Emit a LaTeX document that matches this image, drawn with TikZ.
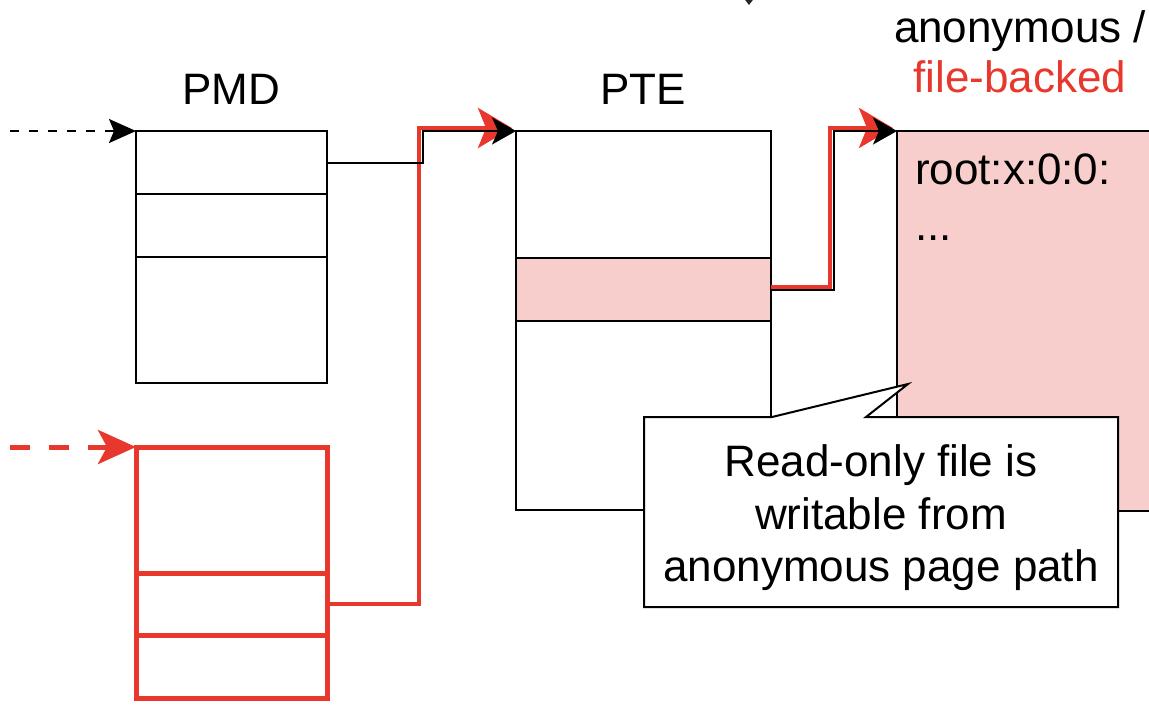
\documentclass[tikz,border=0pt]{standalone}
\usepackage{fontspec}
\setmainfont{Liberation Sans}
\usetikzlibrary{arrows.meta,calc}
\definecolor{alertred}{HTML}{E8372C}
\definecolor{pagepink}{HTML}{F8CECC}
\begin{document}
\begin{tikzpicture}[x=0.5pt,y=-0.5pt,
  every node/.style={inner sep=0pt,outer sep=0pt},
  lbl/.style={font=\fontsize{22}{26.25}\selectfont},
  cellbox/.style={draw=black,line width=1pt,anchor=north west,minimum width=#1},
  redcell/.style={draw=alertred,line width=2.5pt,anchor=north west,minimum width=95.5pt,fill=white},
  link/.style={draw=black,line width=1pt,-{Stealth[length=12pt,width=13.5pt,inset=3pt]}},
  redlink/.style={draw=alertred,line width=2pt,-{Stealth[length=17pt,width=20pt,inset=4pt]}},
  entry/.style={black,line width=1pt,dash pattern=on 4.5pt off 5pt,-{Stealth[length=13.5pt,width=12pt,inset=2.5pt]}},
  redentry/.style={alertred,line width=2.5pt,dash pattern=on 10pt off 9.5pt,-{Stealth[length=19pt,width=17pt,inset=4.5pt]}}]
\useasboundingbox (0,0) rectangle (1149,708);
\clip (0,0) rectangle (1149,708);

% tip of an incoming arrow, cut by the top edge
\fill[black!85] (739,-8) -- (749,5) -- (759,-8) -- cycle;

% PMD table (black)
\node[cellbox=95.5pt,minimum height=31.5pt] (pmd1) at (136,131) {};
\node[cellbox=95.5pt,minimum height=31.5pt] (pmd2) at (136,194) {};
\node[cellbox=95.5pt,minimum height=63pt] (pmd3) at (136,257) {};
\node[lbl,anchor=base] (pmdlabel) at (231,104) {PMD};

% PMD table (red)
\node[redcell,minimum height=63pt] (rp1) at (136,447) {};
\node[redcell,minimum height=31pt] (rp2) at (136,573) {};
\node[redcell,minimum height=31.5pt] (rp3) at (136,635) {};

% PTE table
\node[cellbox=127.5pt,minimum height=63.5pt] (pte1) at (516,131) {};
\node[cellbox=127.5pt,minimum height=31.5pt,fill=pagepink] (pte2) at (516,258) {};
\node[cellbox=127.5pt,minimum height=94.5pt] (pte3) at (516,321) {};
\node[lbl,anchor=base] (ptelabel) at (643,104) {PTE};

% file page
\node[cellbox=140pt,minimum height=190pt,fill=pagepink] (file) at (897,131) {};
\node[lbl,anchor=base west] (rootline) at (915,184) {root:x:0:0:};
\node[lbl,anchor=base west] (dots) at (915,240) {...};
\node[lbl,anchor=base] (anonlabel) at (1020,42) {anonymous /};
\node[lbl,anchor=base,text=alertred] (filelabel) at (1020,92) {file-backed};

% incoming pointers
\coordinate (srcA) at (10,131);
\coordinate (srcB) at (10,447);
\draw[entry] (srcA) -- (pmd1.north west);
\draw[redentry] (srcB) -- (rp1.north west);

% PMD -> PTE
\coordinate (busA) at (423,0);
\coordinate (busAr) at (419,0);
\coordinate (tipAr) at ($(pte1.north west)+(-4,-3)$);
\draw[redlink] (rp2.east) -- (rp2.east -| busAr) -- (busAr |- tipAr) -- (tipAr);
\draw[link] (pmd1.east) -- (pmd1.east -| busA) |- (pte1.north west);

% PTE -> page
\coordinate (busB) at (834,0);
\coordinate (busBr) at (830,0);
\coordinate (startBr) at ($(pte2.east)+(0,-3)$);
\coordinate (tipBr) at ($(file.north west)+(-4,-3)$);
\draw[redlink] (startBr) -- (startBr -| busBr) -- (busBr |- tipBr) -- (tipBr);
\draw[link] (pte2.east) -- (pte2.east -| busB) |- (file.north west);

% callout
\node[minimum width=237pt,minimum height=95pt] (callout) at (881,512) {};
\coordinate (noteTip) at (908,384);
\filldraw[fill=white,draw=black,line width=1pt]
  (callout.north west) -- ($(callout.north west)+(128,0)$) -- (noteTip)
  -- ($(callout.north west)+(222,0)$) -- (callout.north east)
  -- (callout.south east) -- (callout.south west) -- cycle;
\node[lbl,align=center] (note) at ($(callout.center)+(0,6)$) {Read-only file is\\writable from\\anonymous page path};
\end{tikzpicture}
\end{document}
